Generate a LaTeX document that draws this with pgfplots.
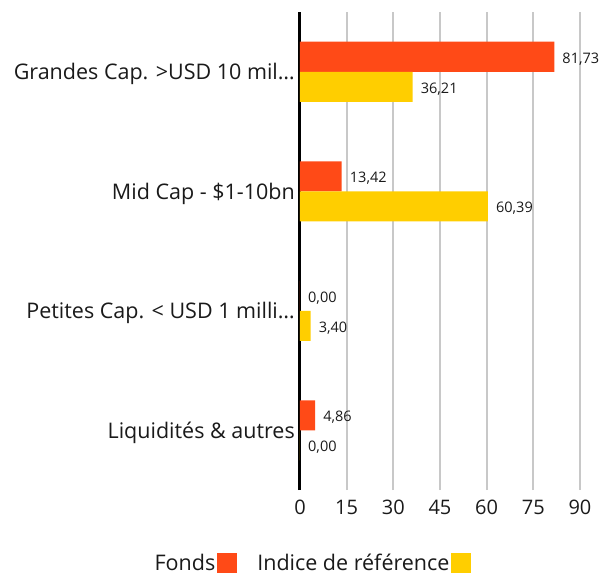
\documentclass[border=0pt]{standalone}
\usepackage{pgfplots}
\pgfplotsset{compat=1.18}
\usepackage{fontspec}
\setmainfont{Open Sans}
\definecolor{fonds}{HTML}{FF4A17}
\definecolor{indice}{HTML}{FFCE00}
\definecolor{gridc}{HTML}{C8C8C8}
\definecolor{txt}{HTML}{1A1A1A}
\begin{document}
\begin{tikzpicture}
\begin{axis}[
  scale only axis, width=280pt, height=478pt,
  xmin=0, xmax=90, ymin=-0.5, ymax=3.5,
  xtick={0,15,30,45,60,75,90}, ytick={0,1,2,3},
  yticklabels={Liquidités \& autres, Petites Cap. < USD 1 milli…, Mid Cap - \$1-10bn, Grandes Cap. >USD 10 mil…},
  axis lines*=left,
  x axis line style={draw=none},
  y axis line style={black, line width=3pt},
  xmajorgrids, grid style={gridc, line width=2pt},
  major tick length=0pt,
  /pgf/number format/assume math mode=true,
  xticklabel style={font=\fontsize{20}{20}\selectfont, text=txt, inner sep=0pt, yshift=-10pt},
  yticklabel style={font=\fontsize{21.5}{21.5}\selectfont, text=txt, inner sep=0pt, xshift=-5pt, yshift=-2.5pt},
  xbar, bar width=30pt,
  nodes near coords,
  nodes near coords style={font=\fontsize{14.5}{14.5}\selectfont, text=txt, inner sep=0pt, anchor=west, xshift=8pt, yshift=-2pt,
    /pgf/number format/.cd, fixed, fixed zerofill, precision=2, use comma, assume math mode=true},
  legend plot pos=right,
  legend columns=2,
  legend image code/.code={\fill[#1] (5pt,-10pt) rectangle (25pt,10pt);},
  legend style={at={(0.043,-0.1527)}, anchor=center, draw=none, fill=none,
    font=\fontsize{21.5}{21.5}\selectfont, text=txt,
    /tikz/every even column/.append style={column sep=18pt}},
]
\addplot[fill=fonds, draw=none, bar shift=15pt] coordinates {(81.73,3) (13.42,2) (0.00,1) (4.86,0)};
\addlegendentry{Fonds}
\addplot[fill=indice, draw=none, bar shift=-15pt] coordinates {(36.21,3) (60.39,2) (3.40,1) (0.00,0)};
\addlegendentry{Indice de référence}
\end{axis}
\pgfresetboundingbox
\path[use as bounding box] (-300pt,-86pt) rectangle (315pt,490pt);
\end{tikzpicture}
\end{document}
